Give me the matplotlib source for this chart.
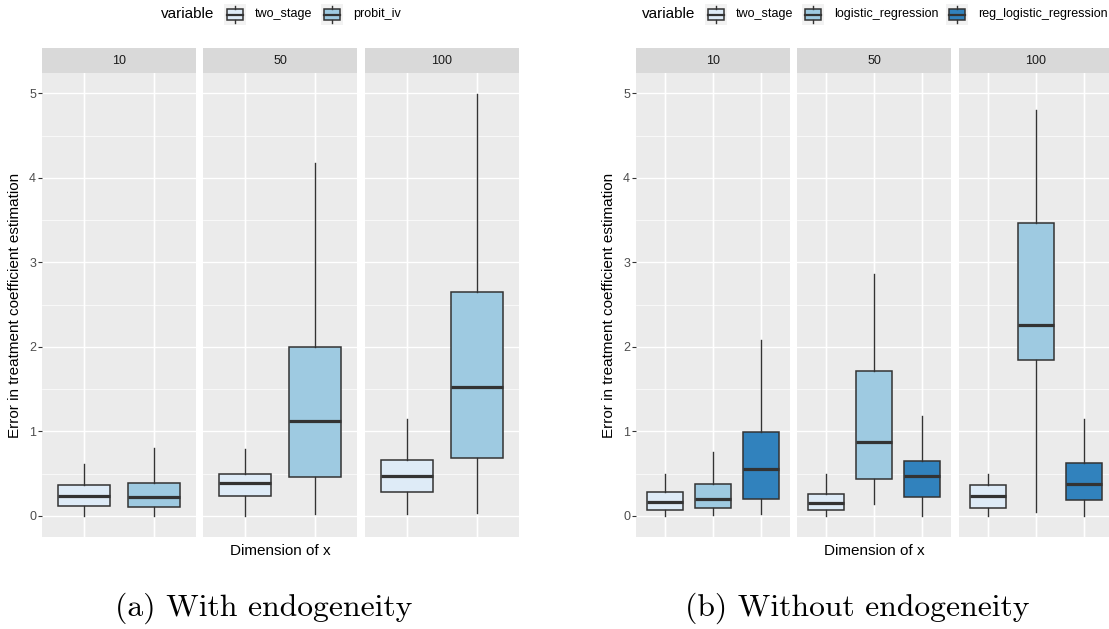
import matplotlib
matplotlib.use("Agg")
import matplotlib.pyplot as plt
from matplotlib.patches import Rectangle

plt.rcParams['font.family'] = ['Liberation Sans', 'DejaVu Sans']

# ---------------- data ----------------
dims = ["10", "50", "100"]

a_methods = ["two_stage", "probit_iv"]
a_whislo = [[0.00, 0.00], [0.00, 0.02], [0.02, 0.03]]
a_q1     = [[0.12, 0.10], [0.23, 0.46], [0.28, 0.68]]
a_med    = [[0.23, 0.22], [0.39, 1.12], [0.47, 1.53]]
a_q3     = [[0.37, 0.39], [0.49, 2.00], [0.66, 2.65]]
a_whishi = [[0.61, 0.80], [0.79, 4.18], [1.15, 4.99]]

b_methods = ["two_stage", "logistic_regression", "reg_logistic_regression"]
b_whislo = [[0.00, 0.01, 0.02], [0.00, 0.14, 0.00], [0.00, 0.05, 0.00]]
b_q1     = [[0.07, 0.09, 0.20], [0.07, 0.44, 0.22], [0.09, 1.85, 0.19]]
b_med    = [[0.17, 0.20, 0.55], [0.15, 0.87, 0.47], [0.23, 2.26, 0.38]]
b_q3     = [[0.28, 0.38, 0.99], [0.26, 1.72, 0.65], [0.36, 3.47, 0.63]]
b_whishi = [[0.50, 0.76, 2.08], [0.50, 2.86, 1.18], [0.50, 4.80, 1.15]]

a_colors = ["#DEEBF7", "#9ECAE1"]
b_colors = ["#DEEBF7", "#9ECAE1", "#3182BD"]

yticks = [0, 1, 2, 3, 4, 5]
yminor = [0.5, 1.5, 2.5, 3.5, 4.5]

# ---------------- layout ----------------
W, H = 1109, 629
fig = plt.figure(figsize=(W / 100, H / 100), dpi=100)


def px(x0, y_top, w, h):
    return [x0 / W, 1 - (y_top + h) / H, w / W, h / H]


EDGE = "#333333"


def draw_panel(lefts, methods, colors, whislo, q1, med, q3, whishi):
    n = len(methods)
    for i, (left, dim) in enumerate(zip(lefts, dims)):
        ax = fig.add_axes(px(left, 73, 154, 464))
        ax.set_facecolor("#EBEBEB")
        ax.set_xlim(0.4, n + 0.6)
        ax.set_ylim(-0.25, 5.24)
        ax.set_yticks(yticks)
        ax.set_yticks(yminor, minor=True)
        ax.set_xticks(range(1, n + 1))
        ax.grid(which="major", color="white", linewidth=1.0)
        ax.grid(which="minor", axis="y", color="white", linewidth=0.5)
        ax.set_axisbelow(True)
        for s in ax.spines.values():
            s.set_visible(False)
        ax.tick_params(axis="x", length=0, labelbottom=False)
        ax.tick_params(axis="y", which="minor", length=0)
        if i == 0:
            ax.tick_params(axis="y", which="major", length=2.75, width=0.8,
                           color=EDGE, labelcolor="#4D4D4D", labelsize=9, pad=1.5)
        else:
            ax.tick_params(axis="y", which="major", length=0, labelleft=False)
        stats = [dict(whislo=whislo[i][k], q1=q1[i][k], med=med[i][k],
                      q3=q3[i][k], whishi=whishi[i][k], label=methods[k])
                 for k in range(n)]
        bp = ax.bxp(stats, positions=list(range(1, n + 1)), widths=0.75,
                    patch_artist=True, showfliers=False, showcaps=False,
                    boxprops=dict(edgecolor=EDGE, linewidth=1.1),
                    medianprops=dict(color=EDGE, linewidth=2.3, solid_capstyle="butt"),
                    whiskerprops=dict(color=EDGE, linewidth=1.0))
        for patch, c in zip(bp["boxes"], colors):
            patch.set_facecolor(c)
        ax.set_xticklabels([])
        # strip
        sax = fig.add_axes(px(left, 48, 154, 25))
        sax.set_facecolor("#D9D9D9")
        sax.set_xticks([])
        sax.set_yticks([])
        for s in sax.spines.values():
            s.set_visible(False)
        sax.text(0.5, 0.5, dim, ha="center", va="center", fontsize=9,
                 color="#1A1A1A", transform=sax.transAxes)


def legend_key(x0, color):
    kax = fig.add_axes(px(x0, 4, 22, 21))
    kax.set_facecolor("#F2F2F2")
    kax.set_xlim(0, 1)
    kax.set_ylim(0, 1)
    kax.set_xticks([])
    kax.set_yticks([])
    for s in kax.spines.values():
        s.set_visible(False)
    kax.add_patch(Rectangle((0.12, 0.25), 0.76, 0.5, facecolor=color,
                            edgecolor=EDGE, linewidth=1.1))
    kax.plot([0.12, 0.88], [0.5, 0.5], color=EDGE, linewidth=1.6)
    kax.plot([0.5, 0.5], [0.08, 0.25], color=EDGE, linewidth=1.0)
    kax.plot([0.5, 0.5], [0.75, 0.92], color=EDGE, linewidth=1.0)


def legend_text(x0, s, size=9):
    fig.text(x0 / W, 1 - 14.5 / H, s, ha="left", va="center", fontsize=size,
             color="black")


# panel (a)
draw_panel([42, 203, 365], a_methods, a_colors,
           a_whislo, a_q1, a_med, a_q3, a_whishi)
legend_text(161, "variable", 11)
legend_key(224, a_colors[0])
legend_text(255, a_methods[0])
legend_key(321, a_colors[1])
legend_text(353, a_methods[1])
fig.text(15 / W, 1 - 305 / H, "Error in treatment coefficient estimation",
         rotation=90, ha="center", va="center", fontsize=11)
fig.text(280 / W, 1 - 551 / H, "Dimension of x", ha="center", va="center",
         fontsize=11)
fig.text(264 / W, 1 - 608 / H, "(a) With endogeneity", ha="center",
         va="center", fontsize=22.8, family="cmr10")

# panel (b)
draw_panel([636, 797, 959], b_methods, b_colors,
           b_whislo, b_q1, b_med, b_q3, b_whishi)
legend_text(642, "variable", 11)
legend_key(705, b_colors[0])
legend_text(736, b_methods[0])
legend_key(802, b_colors[1])
legend_text(834, b_methods[1])
legend_key(946, b_colors[2])
legend_text(978, b_methods[2])
fig.text(609 / W, 1 - 305 / H, "Error in treatment coefficient estimation",
         rotation=90, ha="center", va="center", fontsize=11)
fig.text(874 / W, 1 - 551 / H, "Dimension of x", ha="center", va="center",
         fontsize=11)
fig.text(857 / W, 1 - 608 / H, "(b) Without endogeneity", ha="center",
         va="center", fontsize=22.8, family="cmr10")

fig.savefig("out.png", dpi=100, facecolor="white")
